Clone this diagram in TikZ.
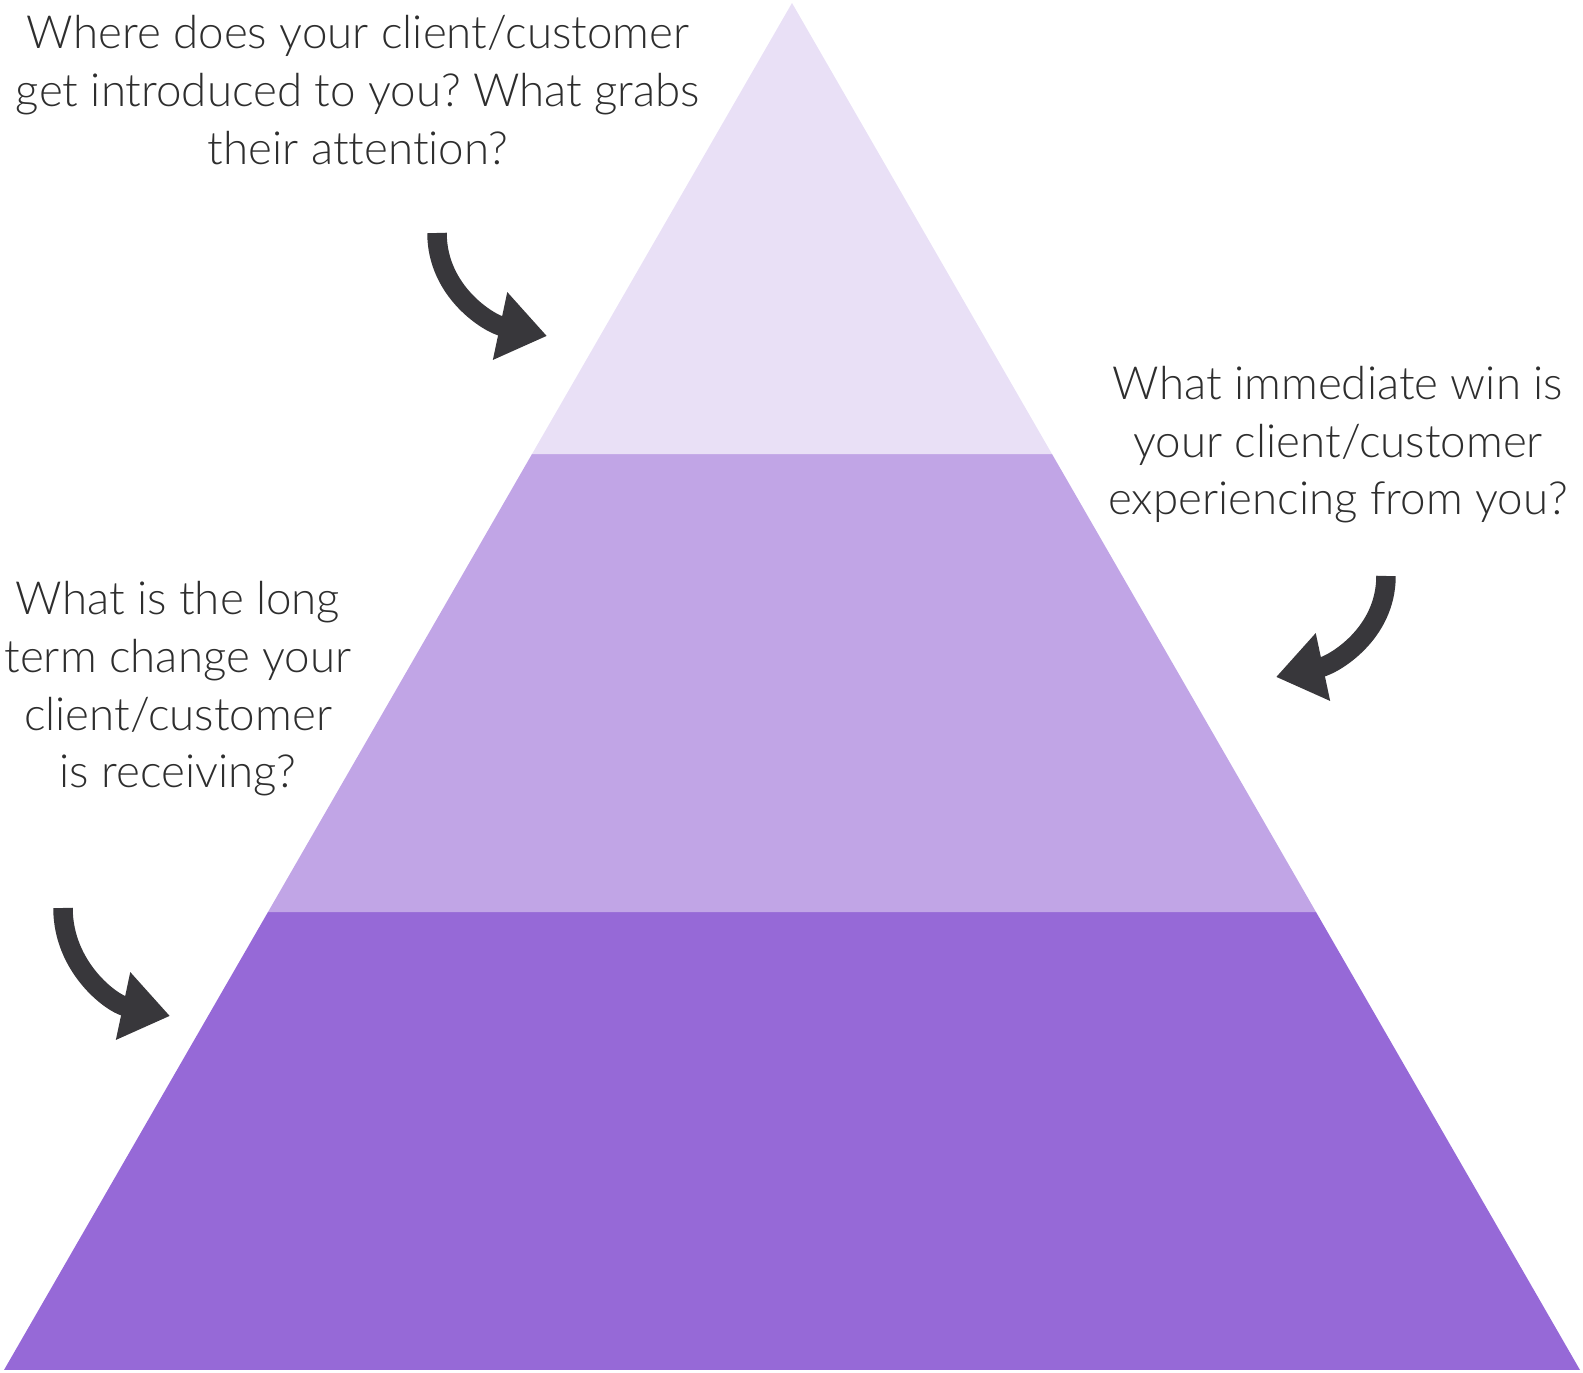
\documentclass[tikz,border=0pt]{standalone}
\usepackage{fontspec}
\setmainfont{Lato}[UprightFont={* Light}, Ligatures=NoCommon]
\definecolor{pTop}{HTML}{E9E0F6}
\definecolor{pMid}{HTML}{C1A5E6}
\definecolor{pBase}{HTML}{9669D7}
\definecolor{mArrow}{HTML}{38373B}
\definecolor{mText}{HTML}{2E2E2E}
\usetikzlibrary{calc,arrows.meta}

\begin{document}
\frenchspacing
\begin{tikzpicture}[x=0.02cm,y=0.02cm,
  question/.style={align=center, text=mText, font=\fontsize{26}{32.8}\selectfont},
  curl/.style={mArrow, line width=0.39cm, -{Triangle[length=0.96cm,width=1.32cm]}}]
\useasboundingbox (0,0) rectangle (1583,1373);
% pyramid corners and band edges
\coordinate (apex) at (792,1370);
\coordinate (bl) at (4,3);
\coordinate (br) at (1580,3);
\coordinate (ul) at ($(apex)!0.33!(bl)$);
\coordinate (ur) at ($(apex)!0.33!(br)$);
\coordinate (ml) at ($(apex)!0.665!(bl)$);
\coordinate (mr) at ($(apex)!0.665!(br)$);
\fill[pBase] (bl) -- (br) -- (mr) -- (ml) -- cycle;
\fill[pMid] (ml) -- (mr) -- (ur) -- (ul) -- cycle;
\fill[pTop] (ul) -- (ur) -- (apex) -- cycle;
% questions
\node[question] (qTop) at (358,1283) {Where does your client/customer\\get introduced to you? What grabs\\their attention?};
\node[question] (qRight) at (1338,928) {What immediate win is\\your client/customer\\experiencing from you?};
\node[question] (qLeft) at (178,684) {What is the long\\term change your\\client/customer\\is receiving?};
% curled arrows
\coordinate (tTop) at (437,1140);
\coordinate (hTop) at (547,1037);
\coordinate (tRight) at (1386,797);
\coordinate (hRight) at (1276,696);
\coordinate (tLeft) at (63,465);
\coordinate (hLeft) at (170,357);
\draw[curl] (tTop) to[out=-90,in=168] (hTop);
\draw[curl] (tRight) to[out=-90,in=12] (hRight);
\draw[curl] (tLeft) to[out=-90,in=168] (hLeft);
\end{tikzpicture}
\end{document}
